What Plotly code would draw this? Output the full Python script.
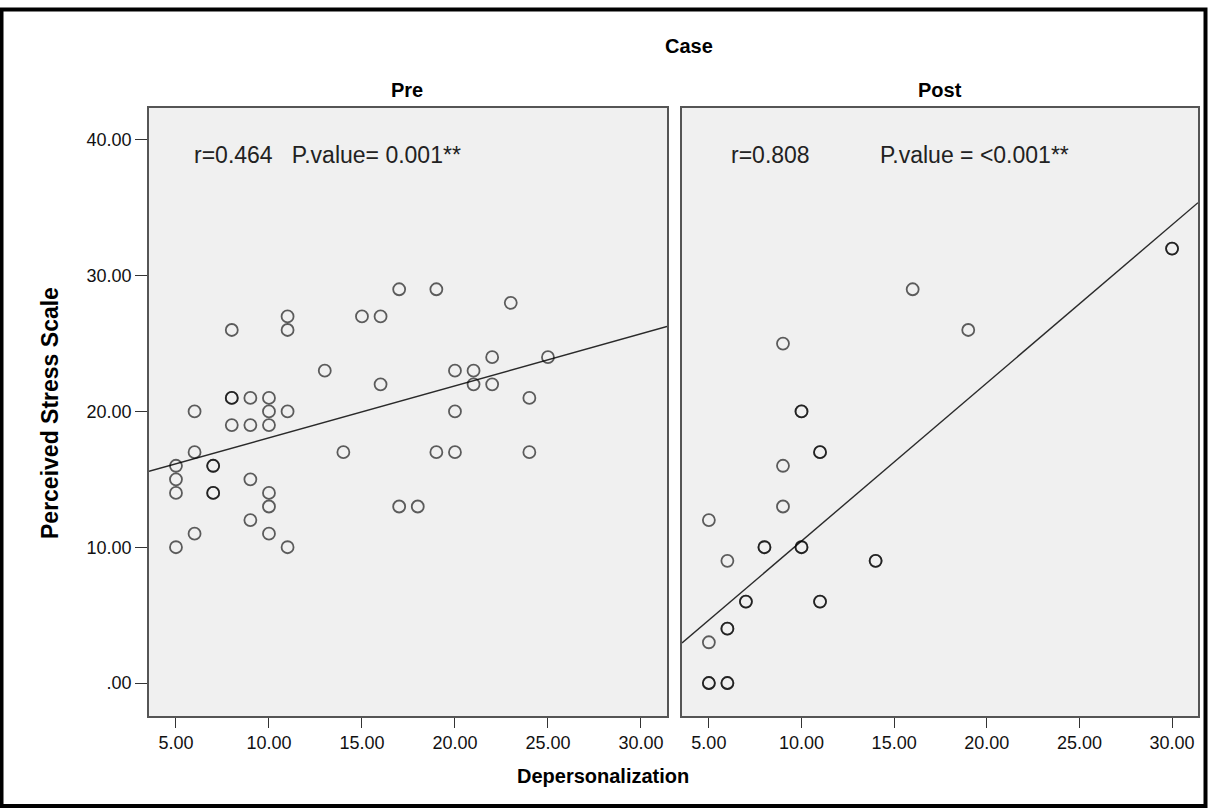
import numpy as np
import plotly.graph_objects as go

# ---- data ----
pre_x = [5, 5, 5, 5, 6, 6, 6, 7, 7, 7, 7, 8, 8, 8, 8, 9, 9, 9, 9,
         10, 10, 10, 10, 10, 10, 11, 11, 11, 11, 13, 14, 15, 16, 16, 17, 17,
         18, 19, 19, 20, 20, 20, 21, 21, 22, 22, 23, 24, 24, 25]
pre_y = [16, 15, 14, 10, 20, 17, 11, 16, 16, 14, 14, 26, 21, 21, 19, 21, 19, 15, 12,
         21, 20, 19, 14, 13, 11, 27, 26, 20, 10, 23, 17, 27, 27, 22, 29, 13,
         13, 29, 17, 23, 20, 17, 23, 22, 24, 22, 28, 21, 17, 24]

post_x = [5, 5, 5, 5, 6, 6, 6, 6, 6, 7, 7, 8, 8, 9, 9, 9, 10, 10, 10, 10,
          11, 11, 11, 11, 14, 14, 16, 19, 30, 30]
post_y = [12, 3, 0, 0, 9, 4, 4, 0, 0, 6, 6, 10, 10, 25, 16, 13, 20, 20, 10, 10,
          17, 17, 6, 6, 9, 9, 29, 26, 32, 32]

# fit lines as drawn in the reference: (intercept, slope)
pre_fit = (14.23, 0.383)
post_fit = (-1.19, 1.1645)

panel_titles = ["Pre", "Post"]
stat_texts = ["r=0.464   P.value= 0.001**", "r=0.808           P.value = <0.001**"]
x_ticks = [5, 10, 15, 20, 25, 30]
y_ticks = [0, 10, 20, 30, 40]
y_ticklabels = [".00", "10.00", "20.00", "30.00", "40.00"]
x_ticklabels = ["5.00", "10.00", "15.00", "20.00", "25.00", "30.00"]

X_RANGE = [3.55, 31.4]
Y_RANGE = [-2.43, 42.35]

W, H = 1208, 808

fig = go.Figure()

panels = [(pre_x, pre_y, pre_fit, "x", "y"), (post_x, post_y, post_fit, "x2", "y2")]
for (xs, ys, fit, xa, ya) in panels:
    a, b = fit
    lx = np.array(X_RANGE)
    fig.add_trace(go.Scatter(x=lx, y=a + b * lx, mode="lines",
                             line=dict(color="#2a2a2a", width=1.4),
                             xaxis=xa, yaxis=ya, hoverinfo="skip", showlegend=False))
    fig.add_trace(go.Scatter(x=xs, y=ys, mode="markers",
                             marker=dict(symbol="circle-open", size=12,
                                         color="rgba(0,0,0,0.62)",
                                         line=dict(width=1.8, color="rgba(0,0,0,0.62)")),
                             xaxis=xa, yaxis=ya, showlegend=False))

def px_x(p):
    return p / W

def px_y(p):
    return 1 - p / H

FONT = "Liberation Sans, Arial"
ydom = [px_y(716), px_y(108)]
common_x = dict(range=X_RANGE, tickvals=x_ticks, ticktext=x_ticklabels,
                showgrid=False, zeroline=False, showline=True, mirror=True,
                linecolor="#555555", linewidth=1.6, ticks="outside", ticklen=10,
                tickcolor="#333333", tickwidth=1.4,
                tickfont=dict(family=FONT, size=18, color="#111"))
common_y = dict(range=Y_RANGE, showgrid=False, zeroline=False, showline=True, mirror=True,
                linecolor="#555555", linewidth=1.6, domain=ydom)

fig.update_layout(
    width=W, height=H,
    margin=dict(l=0, r=0, t=0, b=0),
    paper_bgcolor="white",
    plot_bgcolor="#F0F0F0",
    xaxis=dict(domain=[px_x(149), px_x(667)], anchor="y", **common_x),
    xaxis2=dict(domain=[px_x(682), px_x(1198)], anchor="y2", **common_x),
    yaxis=dict(anchor="x", tickvals=y_ticks, ticktext=y_ticklabels, ticks="outside",
               ticklen=12, tickcolor="#333333", tickwidth=1.4,
               tickfont=dict(family=FONT, size=18, color="#111"),
               **common_y),
    yaxis2=dict(anchor="x2", showticklabels=False, ticks="", **common_y),
    showlegend=False,
)

def label(text, x, y, size, angle=0, xanchor="center", color="#000"):
    return dict(text=text, x=px_x(x), y=px_y(y), xref="paper", yref="paper",
                xanchor=xanchor, yanchor="middle", showarrow=False, textangle=angle,
                font=dict(family=FONT, size=size, color=color))

ann = [
    label("<b>Case</b>", 689, 46, 20),
    label("<b>" + panel_titles[0] + "</b>", 407, 90, 20),
    label("<b>" + panel_titles[1] + "</b>", 940, 90, 20),
    label("<b>Depersonalization</b>", 603, 776, 20),
    label("<b>Perceived Stress Scale</b>", 50, 413, 23, angle=-90),
    label(stat_texts[0], 192, 155, 23, xanchor="left", color="#222"),
    label(stat_texts[1], 729, 155, 23, xanchor="left", color="#222"),
]
fig.update_layout(annotations=ann)

fig.add_shape(type="rect", xref="paper", yref="paper",
              x0=px_x(1.5), x1=px_x(1205.5), y0=px_y(806), y1=px_y(9.5),
              line=dict(color="black", width=4), fillcolor="rgba(0,0,0,0)")

fig.write_html("out.html", config={"displayModeBar": False},
               post_script="document.body.style.margin='0px';document.body.style.overflow='hidden';")
